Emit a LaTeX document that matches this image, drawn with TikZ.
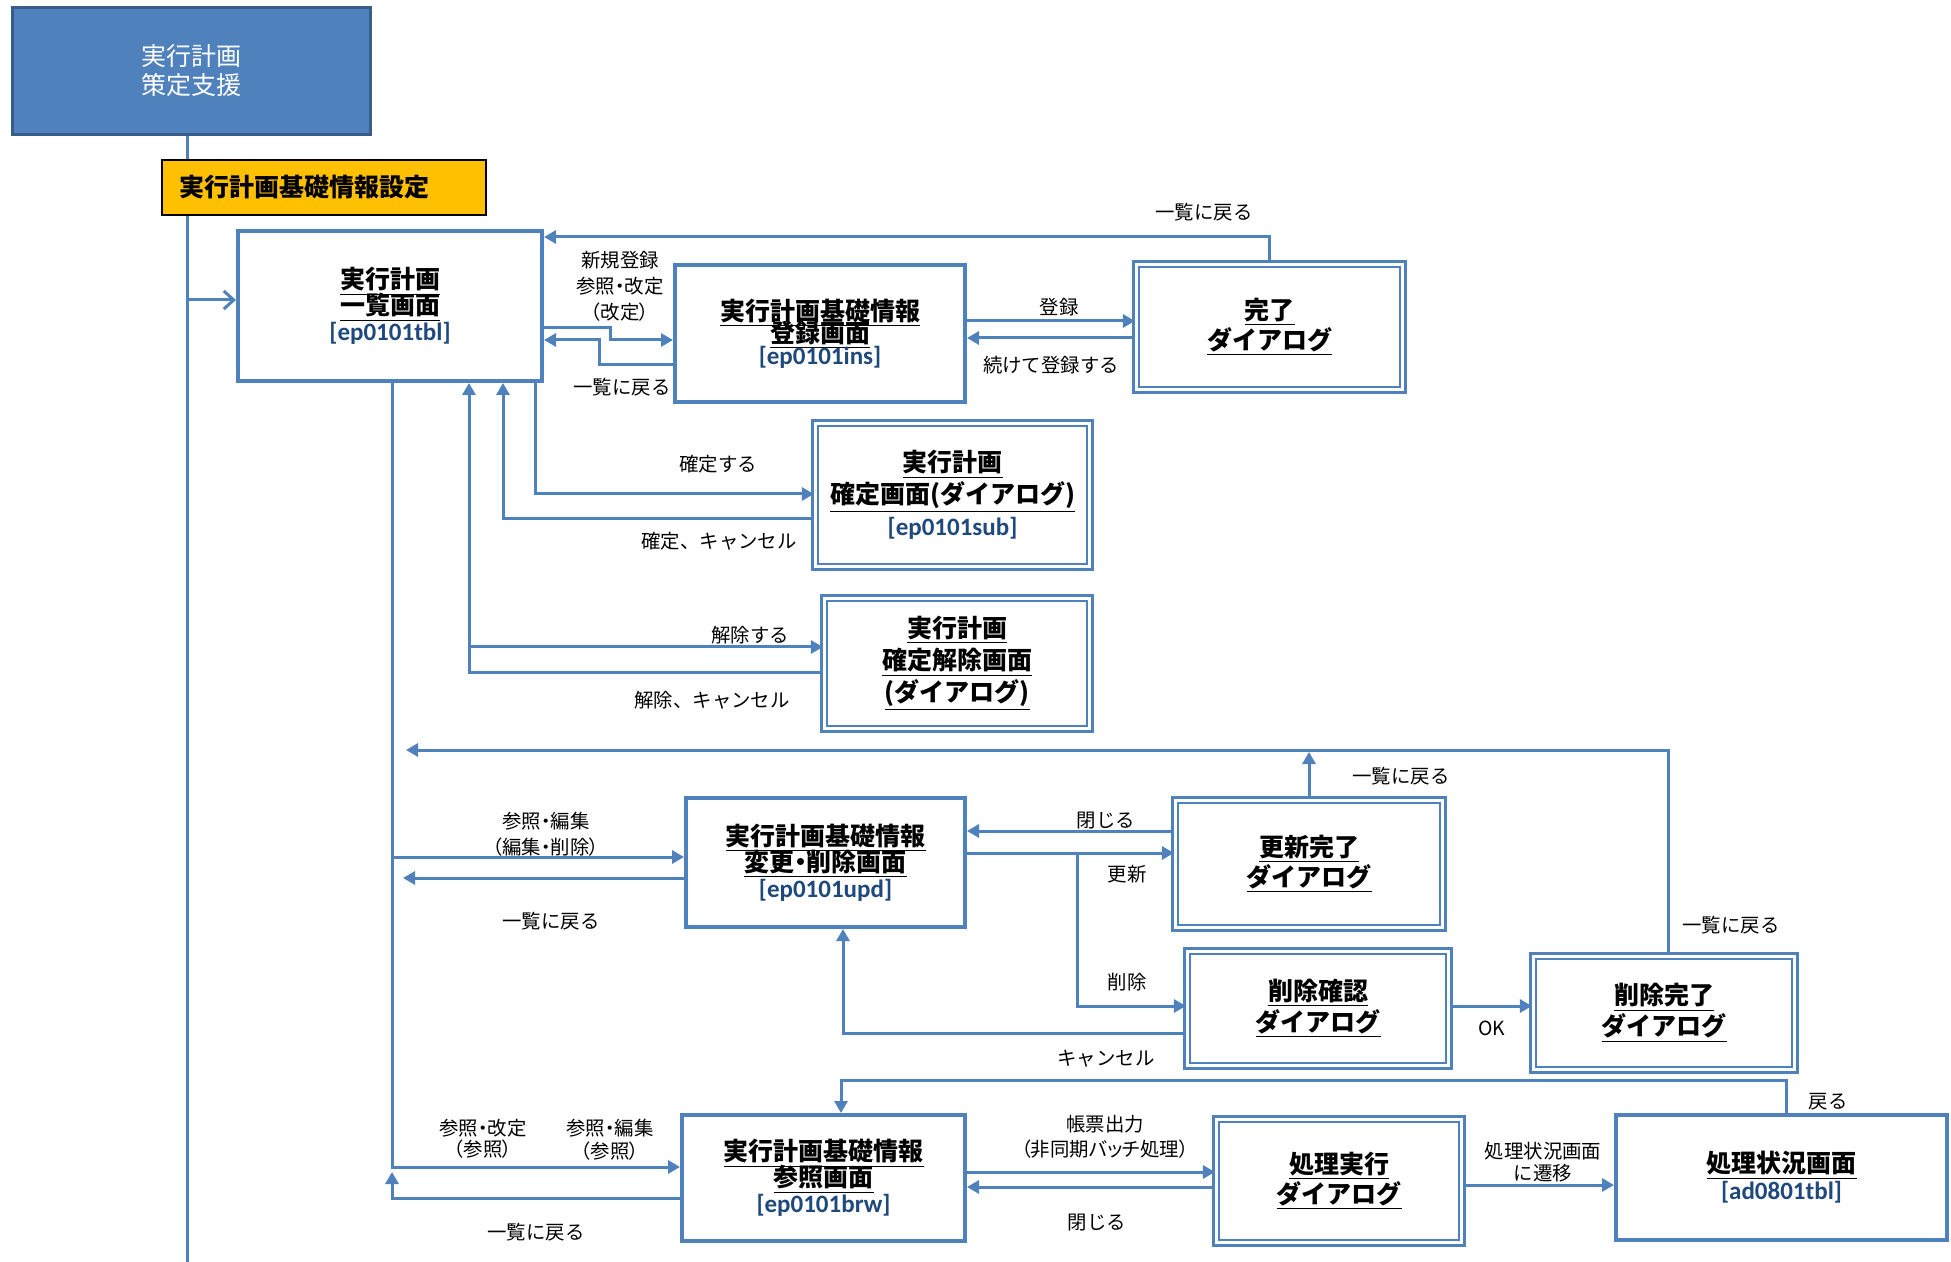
\documentclass[tikz,border=0pt]{standalone}
\usepackage{fontspec}
\setmainfont{Noto Sans CJK JP}
\newfontfamily\pfont{Noto Sans CJK JP}[RawFeature=+palt]
\newfontfamily\codefont{Carlito}
\usetikzlibrary{arrows.meta,calc}
\definecolor{lineblue}{HTML}{4F81BD}
\definecolor{topborder}{HTML}{385D8A}
\definecolor{yel}{HTML}{FFC000}
\definecolor{codeblue}{HTML}{1F497D}
\newcommand\ttl[1]{\underline{\textbf{#1}}}
\newcommand\cd[1]{{\codefont\bfseries\color{codeblue}#1}}
\newcommand\fsz[2]{\fontsize{#1}{#2}\selectfont\lineskiplimit=-50pt\relax}
\begin{document}
\begin{tikzpicture}[x=0.5pt,y=-0.5pt,
  sbox/.style 2 args={draw=lineblue, line width=2pt, fill=white,
    minimum width={(#1-4)*0.5pt}, minimum height={(#2-4)*0.5pt},
    inner sep=0pt, align=center},
  dbox/.style 2 args={draw=lineblue, line width=1.3pt, double=white, double distance=1.6pt,
    minimum width={(#1-8.4)*0.5pt}, minimum height={(#2-8.4)*0.5pt},
    inner sep=0pt, align=center},
  arr/.style={draw=lineblue, line width=1.5pt, -{Triangle[length=6pt,width=6.5pt]}},
  oarr/.style={draw=lineblue, line width=1.5pt, -{Straight Barb[length=5pt,width=9pt]}},
  ln/.style={draw=lineblue, line width=1.5pt},
  lbl/.style={font=\fsz{9.7}{13}, inner sep=0pt, align=center},
]
\useasboundingbox (0,0) rectangle (1951,1262);

% top box and trunk
\node[draw=topborder, line width=1.5pt, fill=lineblue, text=white,
  minimum width={(361-3)*0.5pt}, minimum height={(130-3)*0.5pt},
  align=center, font=\fsz{12.5}{14.5}] (top) at (191.5,71) {実行計画\\策定支援};
\coordinate (trunkbot) at (187,1262);
\draw[ln] (trunkbot |- top.south) -- (trunkbot);
\node[draw=black, line width=0.6pt, fill=yel, minimum height=27.5pt,
  inner xsep=8.5pt, inner ysep=0pt, text width=145pt, align=left,
  font=\fsz{12.5}{14}\bfseries] (cat) at (324,187.5) {実行計画基礎情報設定};

% screens
\node[sbox={308}{154}, font=\fsz{12.5}{13}] (tbl) at (390,306)
  {\ttl{実行計画}\\\ttl{一覧画面}\\\cd{[ep0101tbl]}};
\node[sbox={294}{141}, font=\fsz{12.5}{11}] (ins) at (820,333.5)
  {\ttl{実行計画基礎情報}\\\ttl{登録画面}\\\cd{[ep0101ins]}};
\node[dbox={275}{134}, font=\fsz{12.5}{15}] (done) at (1269.5,327)
  {\ttl{完了}\\\ttl{ダイアログ}};
\node[dbox={283}{152}, font=\fsz{12.5}{16}] (sub) at (952.5,495)
  {\ttl{実行計画}\\\ttl{確定画面(ダイアログ)}\\\cd{[ep0101sub]}};
\node[dbox={274}{139}, font=\fsz{12.5}{16}] (rel) at (957,663.5)
  {\ttl{実行計画}\\\ttl{確定解除画面}\\\ttl{(ダイアログ)}};
\node[sbox={283}{133}, font=\fsz{12.5}{13}] (upd) at (825.5,862.5)
  {\ttl{実行計画基礎情報}\\{\pfont\ttl{変更・削除画面}}\\\cd{[ep0101upd]}};
\node[dbox={276}{136}, font=\fsz{12.5}{15}] (updone) at (1309,864)
  {\ttl{更新完了}\\\ttl{ダイアログ}};
\node[dbox={270}{123}, font=\fsz{12.5}{15.5}] (delc) at (1318,1008.5)
  {\ttl{削除確認}\\\ttl{ダイアログ}};
\node[dbox={270}{122}, font=\fsz{12.5}{15.5}] (deldone) at (1664,1013)
  {\ttl{削除完了}\\\ttl{ダイアログ}};
\node[sbox={287}{130}, font=\fsz{12.5}{13}] (ref) at (823.5,1178)
  {\ttl{実行計画基礎情報}\\\ttl{参照画面}\\\cd{[ep0101brw]}};
\node[dbox={254}{132}, font=\fsz{12.5}{15}] (exec) at (1339,1181)
  {\ttl{処理実行}\\\ttl{ダイアログ}};
\node[sbox={335}{129}, font=\fsz{12.5}{13.5}] (stat) at (1781.5,1177.5)
  {\ttl{処理状況画面}\\\cd{[ad0801tbl]}};

% connectors
\draw[oarr] (trunkbot |- 0,300) -- (tbl.west |- 0,300);
\draw[arr] (done.north) |- (tbl.east |- 0,237);
\draw[arr] (tbl.east |- 0,328) -- (610,328) -- (610,340) -- (ins.west |- 0,340);
\draw[arr] (ins.west |- 0,365) -- (599,365) -- (599,340) -- (tbl.east |- 0,340);
\draw[arr] (ins.east |- 0,321) -- (done.west |- 0,321);
\draw[arr] (done.west |- 0,338) -- (ins.east |- 0,338);

\draw[arr] (tbl.south -| 535,0) |- (sub.west |- 0,494);
\draw[arr] (sub.west |- 0,519) -| (tbl.south -| 503,0);
\coordinate (relsplit) at (469,647);
\draw[arr] (relsplit) -- (rel.west |- relsplit);
\draw[arr] (rel.west |- 0,673) -| (tbl.south -| 469,0);

\coordinate (trunk2) at (392,1167);
\draw[arr] (tbl.south -| trunk2) -- (trunk2) -- (ref.west |- trunk2);
\draw[arr] (trunk2 |- 0,857) -- (upd.west |- 0,857);
\coordinate (updback) at (403,878);
\draw[arr] (upd.west |- updback) -- (updback);
\coordinate (bigback) at (406,750);
\draw[arr] (deldone.north -| 1668,0) |- (bigback);
\draw[arr] (updone.north) -- (updone.north |- 0,752);
\draw[arr] (updone.west |- 0,831) -- (upd.east |- 0,831);
\draw[arr] (upd.east |- 0,853) -- (updone.west |- 0,853);
\draw[arr] (1077,853) |- (delc.west |- 0,1006);
\draw[arr] (delc.west |- 0,1033) -| (upd.south -| 843,0);
\draw[arr] (delc.east |- 0,1006) -- (deldone.west |- 0,1006);

\draw[arr] (stat.north -| 1786,0) -- (1786,1080) -| (ref.north -| 841,0);
\draw[arr] (ref.east |- 0,1172) -- (exec.west |- 0,1172);
\draw[arr] (exec.west |- 0,1187) -- (ref.east |- 0,1187);
\draw[arr] (exec.east |- 0,1185) -- (stat.west |- 0,1185);
\coordinate (refback) at (392,1172);
\draw[arr] (ref.west |- 0,1198) -| (refback);

% labels
\node[lbl] (l1) at (1204,212) {一覧に戻る};
\node[lbl, font=\pfont\fsz{9.7}{13}] (l2) at (620,286) {新規登録\\参照・改定\\（改定）};
\node[lbl] (l3) at (622,387) {一覧に戻る};
\node[lbl] (l4) at (1059,307) {登録};
\node[lbl] (l5) at (1051,365) {続けて登録する};
\node[lbl] (l6) at (718,464) {確定する};
\node[lbl] (l7) at (719,541) {確定、キャンセル};
\node[lbl] (l8) at (750,635) {解除する};
\node[lbl] (l9) at (712,700) {解除、キャンセル};
\node[lbl] (l10) at (1401,776) {一覧に戻る};
\node[lbl, font=\pfont\fsz{9.7}{13}] (l11) at (546,834) {参照・編集\\（編集・削除）};
\node[lbl] (l12) at (551,921) {一覧に戻る};
\node[lbl] (l13) at (1106,821) {閉じる};
\node[lbl] (l14) at (1127,874) {更新};
\node[lbl] (l15) at (1127,982) {削除};
\node[lbl] (l16) at (1731,925) {一覧に戻る};
\node[lbl] (l17) at (1492,1028) {OK};
\node[lbl] (l18) at (1106,1059) {キャンセル};
\node[lbl] (l19) at (1828,1102) {戻る};
\node[lbl, font=\pfont\fsz{9.7}{10.5}] (l20) at (483,1139) {参照・改定\\（参照）};
\node[lbl, font=\pfont\fsz{9.7}{11.5}] (l21) at (610,1140) {参照・編集\\（参照）};
\node[lbl, font=\pfont\fsz{9.7}{12.5}] (l22) at (1105,1137) {帳票出力\\（非同期バッチ処理）};
\node[lbl] (l23) at (536,1232) {一覧に戻る};
\node[lbl] (l24) at (1097,1223) {閉じる};
\node[lbl, font=\fsz{9.7}{11}] (l25) at (1543,1162) {処理状況画面\\に遷移};
\end{tikzpicture}
\end{document}
